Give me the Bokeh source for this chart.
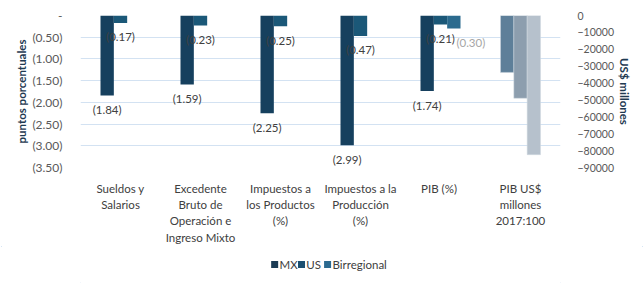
from bokeh.plotting import figure
from bokeh.layouts import column
from bokeh.models import Range1d, LinearAxis, FixedTicker, ColumnDataSource
from bokeh.core.properties import value
from bokeh.embed import file_html
from bokeh.resources import INLINE

# ---------------- data ----------------
categories = [
    "Sueldos y\nSalarios",
    "Excedente\nBruto de\nOperación e\nIngreso Mixto",
    "Impuestos a\nlos Productos\n(%)",
    "Impuestos a la\nProducción\n(%)",
    "PIB  (%)",
    "PIB US$\nmillones\n2017:100",
]
series_names = ["MX", "US", "Birregional"]
mx_pct = [-1.84, -1.59, -2.25, -2.99, -1.74]
us_pct = [-0.17, -0.23, -0.25, -0.47, -0.21]
birr_pct = [None, None, None, None, -0.30]
usd_values = [-33700, -49000, -82400]          # PIB US$ millones: MX, US, Birregional

left_ticks = [0, -0.5, -1.0, -1.5, -2.0, -2.5, -3.0, -3.5]
left_tick_labels = ["-", "(0.50)", "(1.00)", "(1.50)", "(2.00)", "(2.50)", "(3.00)", "(3.50)"]
right_ticks = [0, -10000, -20000, -30000, -40000, -50000, -60000, -70000, -80000, -90000]

# ---------------- style ----------------
FONT = "Lato"
pct_colors = ["#16405e", "#1b5878", "#2b6b8e"]
usd_colors = ["#5e7f99", "#8d9eae", "#b6c1cc"]
legend_colors = ["#1b3b54", "#1c4f70", "#2b6a90"]
TXT = "#404040"
FRAME_H = 163.0
PX = 3.5 / FRAME_H     # data units per pixel (y)
PXX = 1.0 / 80.0       # data units per pixel (x)
BW = 1.0 / 6.0
offsets = [-BW, 0.0, BW]
MAIN_H = 246
LEG_H = 284 - MAIN_H

p = figure(width=644, height=MAIN_H, x_range=Range1d(0, 6), y_range=Range1d(-3.5, 0),
           output_backend="svg", toolbar_location=None,
           min_border_left=80, min_border_right=84, min_border_top=15, min_border_bottom=MAIN_H - 178)
p.extra_y_ranges = {"usd": Range1d(-90000, 0)}
p.outline_line_color = None
p.background_fill_color = "white"
p.border_fill_color = "white"

# grid
p.xgrid.visible = False
p.ygrid.grid_line_color = "#d3e2f2"
p.ygrid.grid_line_width = 1
p.ygrid.ticker = FixedTicker(ticks=left_ticks)

# x axis (category labels)
xax = p.xaxis[0]
xax.ticker = FixedTicker(ticks=[i + 0.5 for i in range(len(categories))])
xax.major_label_overrides = {i + 0.5: c for i, c in enumerate(categories)}
xax.axis_line_color = None
xax.major_tick_line_color = None
xax.minor_tick_line_color = None
xax.major_label_standoff = 8
xax.major_label_text_font = FONT
xax.major_label_text_font_size = "11.5px"
xax.major_label_text_color = TXT
xax.major_label_text_line_height = 1.26

# left axis
yax = p.yaxis[0]
yax.ticker = FixedTicker(ticks=left_ticks)
yax.major_label_overrides = {t: l for t, l in zip(left_ticks, left_tick_labels)}
yax.axis_line_color = None
yax.major_tick_line_color = None
yax.minor_tick_line_color = None
yax.major_label_standoff = 12
yax.major_label_text_font = FONT
yax.major_label_text_font_size = "12px"
yax.major_label_text_color = "#595959"
yax.axis_label = "puntos porcentuales"
yax.axis_label_text_font = FONT
yax.axis_label_text_font_style = "bold"
yax.axis_label_text_font_size = "11.5px"
yax.axis_label_text_color = "#1f3a52"
yax.axis_label_standoff = 1

# right axis
rax = LinearAxis(y_range_name="usd", ticker=FixedTicker(ticks=right_ticks))
rax.axis_line_color = None
rax.major_tick_line_color = None
rax.minor_tick_line_color = None
rax.major_label_standoff = 11
rax.major_label_text_font = FONT
rax.major_label_text_font_size = "10.5px"
rax.major_label_text_color = "#595959"
rax.axis_label = "US$ millones"
rax.axis_label_text_font = FONT
rax.axis_label_text_font_style = "bold"
rax.axis_label_text_font_size = "11.5px"
rax.axis_label_text_color = "#1f3a52"
rax.axis_label_standoff = 1
p.add_layout(rax, "right")

# percentage bars
pct_series = [mx_pct, us_pct, birr_pct]
for vals, off, col in zip(pct_series, offsets, pct_colors):
    xs, tops = [], []
    for i, v in enumerate(vals):
        if v is not None:
            xs.append(i + 0.5 + off)
            tops.append(v)
    src = ColumnDataSource(dict(x=xs, top=tops))
    p.vbar(x="x", top="top", bottom=0, width=BW, source=src, fill_color=col, line_color=None)

# usd bars
last = len(categories) - 1
src_usd = ColumnDataSource(dict(x=[last + 0.5 + o for o in offsets], top=usd_values, color=usd_colors))
p.vbar(x="x", top="top", bottom=0, width=BW, source=src_usd, fill_color="color",
       line_color="#d0d8e0", line_width=0.5, y_range_name="usd")

# data labels
label_colors = [TXT, TXT, "#a6a6a6"]
label_dx = [0, 0, 17]
for vals, off, col, dx in zip(pct_series, offsets, label_colors, label_dx):
    xs, ys, txt = [], [], []
    for i, v in enumerate(vals):
        if v is not None:
            xs.append(i + 0.5 + off + dx * PXX)
            ys.append(v - 15 * PX)
            txt.append("({:.2f})".format(abs(v)))
    p.text(x=xs, y=ys, text=txt, text_align="center", text_baseline="middle",
           text_font=value(FONT), text_font_size="11.5px", text_color=col)

# legend strip (own small figure, pixel coordinates)
lg = figure(width=644, height=LEG_H, x_range=Range1d(0, 644), y_range=Range1d(LEG_H, 0),
            output_backend="svg", toolbar_location=None,
            x_axis_location=None, y_axis_location=None,
            min_border_left=0, min_border_right=0, min_border_top=0, min_border_bottom=0)
lg.grid.visible = False
lg.outline_line_color = None
lg.border_fill_color = "white"
leg_x = [257, 293, 328]
leg_y = 264 - MAIN_H
lg.scatter(x=[x + 3.5 for x in leg_x], y=[leg_y] * 3, marker="square", size=7,
           fill_color=legend_colors, line_color=None)
lg.text(x=[x + 10 for x in leg_x], y=[leg_y] * 3, text=series_names,
        text_align="left", text_baseline="middle",
        text_font=value(FONT), text_font_size="11.5px", text_color=TXT)

layout = column(p, lg, spacing=0)
layout.styles = {"outline": "1.5px solid #c9dcf0", "outline-offset": "-2px"}

open("out.html", "w").write(file_html(layout, INLINE))
